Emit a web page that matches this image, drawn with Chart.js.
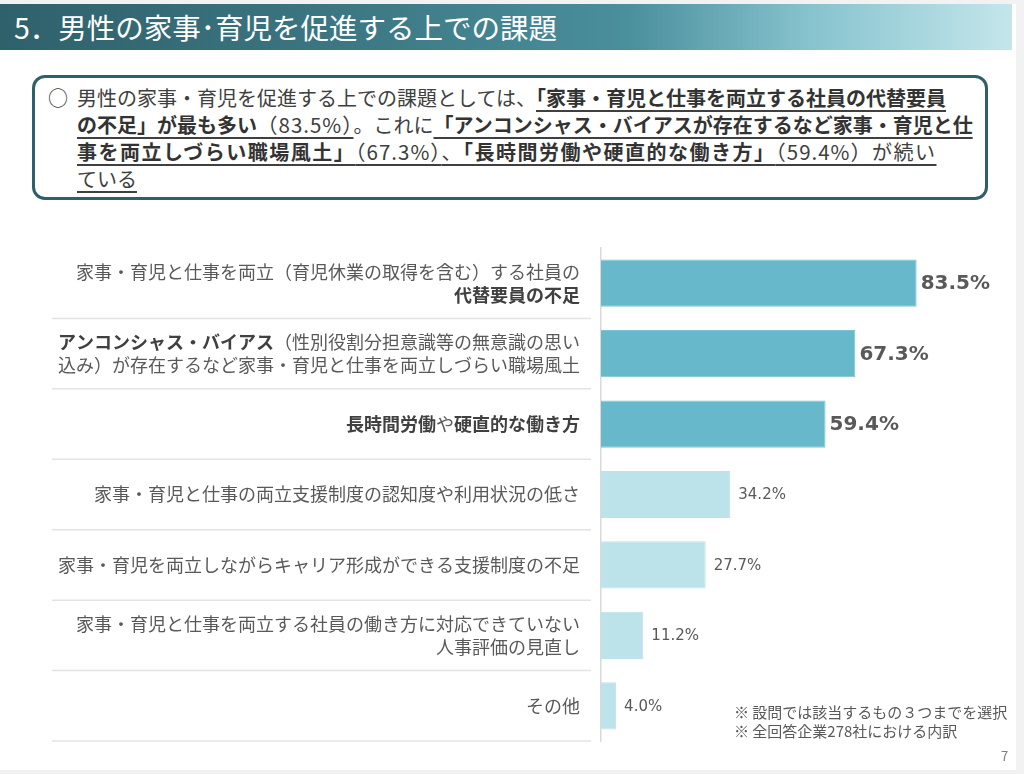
<!DOCTYPE html>
<html lang="ja">
<head>
<meta charset="utf-8">
<script src="https://cdn.jsdelivr.net/npm/chart.js@4.4.1/dist/chart.umd.min.js"></script>
<style>
  html, body { margin: 0; padding: 0; }
  body { width: 1024px; height: 774px; background: #f2f2f2; position: relative; overflow: hidden;
         font-family: "Noto Sans CJK JP", "Noto Sans", sans-serif; }
  .slide { position: absolute; left: 0; top: 4px; width: 1016px; height: 766px; background: #fff; }
  .titlebar { position: absolute; left: 0; top: 4px; width: 1012px; height: 46px;
              background: linear-gradient(to right, #2f616b 0%, #3a7480 30%, #4a8f9c 62%, #86c3ce 80%, #c4e6eb 100%); }
  .titlebar span { position: absolute; left: 14px; top: 3px; color: #fff; font-size: 28.5px; line-height: 40px; }
  .summary { position: absolute; left: 32px; top: 75px; width: 950px; height: 119px;
             border: 3px solid #2f5f6b; border-radius: 13px; }
  .summary .mark { position: absolute; left: 13px; top: 6px; font-size: 20px; line-height: 28px; color: #404040; }
  .summary .text { position: absolute; left: 42px; top: 6px; font-size: 20px; line-height: 27px; color: #404040;
                   white-space: nowrap; }
  .summary u { text-decoration-thickness: 1.5px; text-underline-offset: 4px; }
  .summary b { font-weight: 700; color: #333; }
  .summary .pct { letter-spacing: 1px; font-size: 20.5px; }
  .summary .wide { letter-spacing: 1.5px; }
  .notes { position: absolute; left: 734px; top: 702px; font-size: 15px; line-height: 19px; color: #595959; z-index: 2; }
  .page { position: absolute; left: 1001px; top: 746px; font-size: 13px; color: #808080; z-index: 2; }
  #myChart { position: absolute; left: 0; top: 240px; z-index: 1; }
</style>
</head>
<body>
<div class="slide"></div>
<div class="titlebar"><span>5．男性の家事･育児を促進する上での課題</span></div>
<div class="summary">
  <div class="mark">○</div>
  <div class="text">男性の家事・育児を促進する上での課題としては、<u><b>「家事・育児と仕事を両立する社員の代替要員</b></u><br><u><b>の不足」が最も多い</b><span class="pct">（83.5%）</span></u>。これに<u><b>「アンコンシャス・バイアスが存在するなど家事・育児と仕</b></u><br><u class="wide"><b>事を両立しづらい職場風土」</b><span class="pct">（67.3%）</span>、<b>「長時間労働や硬直的な働き方」</b><span class="pct">（59.4%）</span>が続い</u><br><u>ている</u></div>
</div>
<div class="notes">※ 設問では該当するもの３つまでを選択<br>※ 全回答企業278社における内訳</div>
<div class="page">7</div>
<canvas id="myChart" width="1024" height="510"></canvas>

<script>
// categories, "\n" = line break, **...** = bold part
const categories = [
    '家事・育児と仕事を両立（育児休業の取得を含む）する社員の\n**代替要員の不足**',
    '**アンコンシャス・バイアス**（性別役割分担意識等の無意識の思い\n込み）が存在するなど家事・育児と仕事を両立しづらい職場風土',
    '**長時間労働**や**硬直的な働き方**',
    '家事・育児と仕事の両立支援制度の認知度や利用状況の低さ',
    '家事・育児を両立しながらキャリア形成ができる支援制度の不足',
    '家事・育児と仕事を両立する社員の働き方に対応できていない\n人事評価の見直し',
    'その他'
];
const values = [83.5, 67.3, 59.4, 34.2, 27.7, 11.2, 4.0];
const valueLabels = ['83.5%', '67.3%', '59.4%', '34.2%', '27.7%', '11.2%', '4.0%'];
const highlightCount = 3;

const COLORS = {
    strong: '#67b8cb',
    strongBorder: '#7cc4d4',
    light: '#bde3ea',
    text: '#595959',
    textBold: '#404040',
    sep: '#e3e3e3',
    axis: '#d9d9d9'
};

const JP_FONT = '"Noto Sans CJK JP", "Noto Sans", sans-serif';

function splitBold(line) {
    // "a**b**c" -> [[a,false],[b,true],[c,false]]
    return line.split('**').map((t, k) => [t, k % 2 === 1]).filter(s => s[0].length);
}

const sideLabels = {
    id: 'sideLabels',
    afterDraw(chart) {
        const ctx = chart.ctx;
        const yScale = chart.scales.y;
        const band = (yScale.bottom - yScale.top) / categories.length;
        const right = chart.chartArea.left - 21;
        ctx.save();

        // separator lines under each label
        ctx.strokeStyle = COLORS.sep;
        ctx.lineWidth = 1.5;
        categories.forEach((c, i) => {
            const yy = yScale.getPixelForValue(i) + band / 2;
            ctx.beginPath();
            ctx.moveTo(52, yy);
            ctx.lineTo(chart.chartArea.left - 10, yy);
            ctx.stroke();
        });

        // labels, right aligned, mixed weight
        ctx.textBaseline = 'middle';
        ctx.textAlign = 'left';
        const lineH = 23;
        categories.forEach((c, i) => {
            const lines = c.split('\n');
            const cy = yScale.getPixelForValue(i);
            lines.forEach((line, li) => {
                const ly = cy + (li - (lines.length - 1) / 2) * lineH;
                const segs = splitBold(line);
                let total = 0;
                segs.forEach(s => {
                    ctx.font = (s[1] ? 'bold ' : '') + '18px ' + JP_FONT;
                    s.push(ctx.measureText(s[0]).width);
                    total += s[2];
                });
                let x = right - total;
                segs.forEach(s => {
                    ctx.font = (s[1] ? 'bold ' : '') + '18px ' + JP_FONT;
                    ctx.fillStyle = s[1] ? COLORS.textBold : COLORS.text;
                    ctx.fillText(s[0], x, ly);
                    x += s[2];
                });
            });
        });

        // value labels at bar ends
        const meta = chart.getDatasetMeta(0);
        meta.data.forEach((bar, i) => {
            const big = i < highlightCount;
            ctx.font = (big ? 'bold 20px ' : '15px ') + '"DejaVu Sans", sans-serif';
            ctx.fillStyle = COLORS.text;
            ctx.fillText(valueLabels[i], bar.x + (big ? 4 : 8), bar.y + 1);
        });
        ctx.restore();
    }
};

const data = {
    labels: categories,
    datasets: [{
        data: values,
        backgroundColor: values.map((v, i) => i < highlightCount ? COLORS.strong : COLORS.light),
        borderColor: values.map((v, i) => i < highlightCount ? COLORS.strongBorder : COLORS.light),
        borderWidth: 1,
        borderSkipped: 'left',
        barPercentage: 0.67,
        categoryPercentage: 1
    }]
};

const config = {
    type: 'bar',
    data: data,
    options: {
        indexAxis: 'y',
        responsive: false,
        animation: false,
        devicePixelRatio: 1,
        layout: {
            padding: { left: 601, right: 45, top: 8, bottom: 9 }
        },
        plugins: {
            legend: { display: false },
            tooltip: { enabled: false }
        },
        scales: {
            x: {
                min: 0,
                max: 100,
                display: false
            },
            y: {
                display: true,
                ticks: { display: false },
                grid: { display: false, drawTicks: false },
                border: { display: true, color: COLORS.axis, width: 1.5 },
                afterFit: (scale) => { scale.width = 0; }
            }
        }
    },
    plugins: [sideLabels]
};

const myChart = new Chart(
    document.getElementById('myChart'),
    config
);
</script>
</body>
</html>
